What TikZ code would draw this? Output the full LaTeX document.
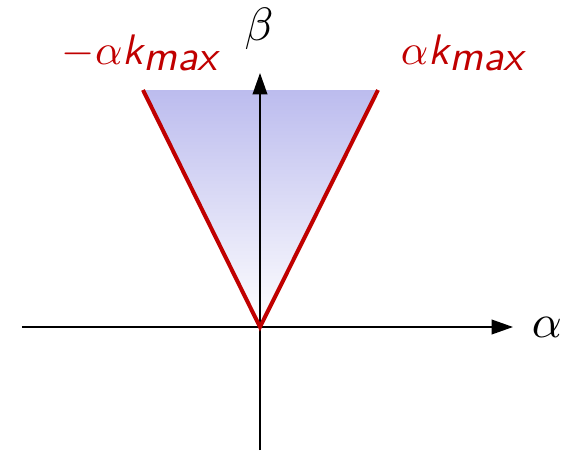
\documentclass[tikz,border=0pt]{standalone}
\usepackage{tikz}
\usetikzlibrary{arrows.meta}

\definecolor{coneRed}{RGB}{192,0,0}
\definecolor{coneBlue}{RGB}{188,188,238}

\tikzset{
  axis/.style={line width=1.2pt,-{Triangle[length=16pt,width=11pt]}},
  coneEdge/.style={line width=3pt,coneRed},
  bigLabel/.style={scale=3.5,inner sep=0pt},
  limLabel/.style={scale=3.2,inner sep=0pt,coneRed,anchor=base west}
}
\newcommand{\kmax}{\textsf{\itshape k}_{\textsf{\itshape max}}}

\begin{document}
\begin{tikzpicture}[x=0.75pt,y=0.75pt]
\useasboundingbox (-260,-124) rectangle (307,327);

% ---------------------------
% 坐标点
% ---------------------------
\coordinate (O)  at (0,0);
\coordinate (XL) at (-238,0);
\coordinate (XR) at (253,0);
\coordinate (YB) at (0,-123);
\coordinate (YT) at (0,254);
\coordinate (CL) at (-117,237);
\coordinate (CR) at (118,237);

% 锥形区域
\shade[top color=coneBlue,bottom color=white] (O)--(CL)--(CR)--cycle;

% 坐标轴
\draw[axis] (XL)--(XR);
\draw[axis] (YB)--(YT);

% 锥的边
\draw[coneEdge] (CL)--(O)--(CR);

% 标签
\node[bigLabel] (alpha) at (287,0) {$\alpha$};
\node[bigLabel] (beta)  at (-1,298) {$\beta$};
\node[limLabel] (kneg) at (-199,263) {$-\alpha\kmax$};
\node[limLabel] (kpos) at (140,263) {$\alpha\kmax$};

\end{tikzpicture}
\end{document}
